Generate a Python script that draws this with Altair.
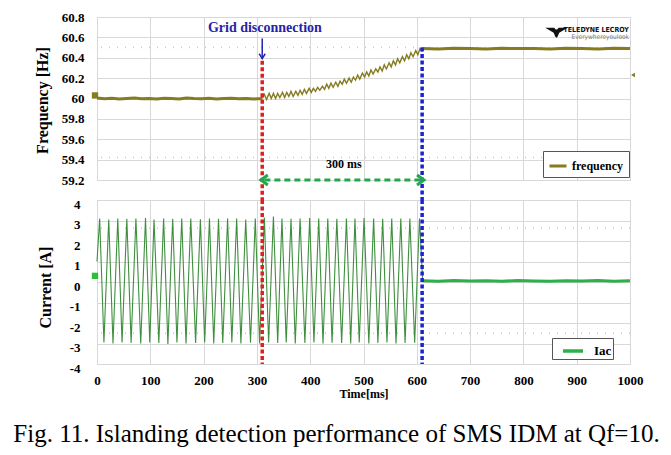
import altair as alt
import pandas as pd

# ---------------- data ----------------
time_ticks = [0, 100, 200, 300, 400, 500, 600, 700, 800, 900, 1000]
freq_ticks = [59.2, 59.4, 59.6, 59.8, 60.0, 60.2, 60.4, 60.6, 60.8]
cur_ticks = [-4, -3, -2, -1, 0, 1, 2, 3, 4]

disconnect_ms = 310
detect_ms = 610

freq_pre_t = [0, 14, 28, 42, 56, 70, 84, 98, 112, 126,
              140, 154, 168, 182, 196, 210, 224, 238, 252, 266,
              280, 294, 310]
freq_pre_v = [60.005, 59.997, 60.003, 59.995, 60.0, 60.005, 59.997, 60.0, 59.995, 60.003,
              60.0, 59.995, 60.005, 60.0, 59.997, 60.003, 59.995, 60.0, 60.003, 59.997,
              60.0, 59.995, 60.0]
freq_ramp_t = [310, 314, 318, 323, 327, 331, 335, 339, 343, 348,
               352, 356, 360, 364, 368, 373, 377, 381, 385, 389,
               393, 398, 402, 406, 410, 414, 418, 423, 427, 431,
               435, 439, 443, 448, 452, 456, 460, 464, 468, 473,
               477, 481, 485, 489, 493, 498, 502, 506, 510, 514,
               518, 523, 527, 531, 535, 539, 543, 548, 552, 556,
               560, 564, 568, 573, 577, 581, 585, 589, 593, 598,
               602, 606, 610]
freq_ramp_v = [60.00, 60.04, 59.99, 60.05, 60.00, 60.05, 60.00, 60.05, 60.01, 60.06,
               60.01, 60.06, 60.02, 60.07, 60.02, 60.07, 60.03, 60.08, 60.04, 60.09,
               60.05, 60.10, 60.06, 60.10, 60.07, 60.11, 60.08, 60.12, 60.09, 60.14,
               60.10, 60.15, 60.11, 60.16, 60.12, 60.17, 60.14, 60.19, 60.15, 60.20,
               60.16, 60.21, 60.18, 60.23, 60.19, 60.25, 60.21, 60.26, 60.22, 60.28,
               60.24, 60.29, 60.26, 60.31, 60.27, 60.33, 60.29, 60.35, 60.31, 60.37,
               60.33, 60.39, 60.35, 60.41, 60.37, 60.43, 60.39, 60.45, 60.41, 60.47,
               60.43, 60.49, 60.46]
freq_post_t = [610, 640, 670, 700, 730, 760, 790, 820, 850, 880, 910, 940, 970, 1000]
freq_post_v = [60.49, 60.487, 60.493, 60.49, 60.487, 60.493, 60.49, 60.49, 60.487, 60.493,
               60.49, 60.487, 60.493, 60.49]

iac_t = [0, 5, 13, 22, 30, 39, 47, 56, 64, 73,
         82, 91, 99, 107, 116, 125, 133, 142, 150, 159,
         167, 176, 185, 194, 202, 211, 219, 228, 236, 245,
         253, 262, 270, 279, 288, 297, 305, 314, 322, 331,
         339, 347, 355, 364, 372, 381, 390, 399, 407, 416,
         424, 433, 441, 450, 459, 468, 476, 484, 492, 501,
         510, 519, 527, 536, 544, 553, 561, 570, 578, 587,
         596, 605, 611]
iac_v = [1.0, 3.1, -2.95, 3.05, -3.0, 3.1, -2.95, 3.08, -2.97, 3.1,
         -3.0, 3.12, -2.95, 3.05, -2.98, 3.1, -3.02, 3.08, -2.95, 3.1,
         -3.0, 3.1, -2.97, 3.06, -2.95, 3.1, -3.0, 3.08, -2.98, 3.1,
         -2.95, 3.1, -3.0, 3.05, -2.96, 3.1, -3.0, 3.15, -2.95, 3.2,
         -2.98, 3.1, -2.95, 3.08, -3.0, 3.1, -2.97, 3.12, -2.95, 3.1,
         -3.0, 3.1, -2.96, 3.08, -2.98, 3.1, -3.0, 3.1, -2.95, 3.12,
         -3.0, 3.1, -2.97, 3.08, -2.95, 3.1, -3.0, 3.1, -2.98, 3.1,
         -2.96, 3.1, 0.08]
iac_post_t = [611, 640, 670, 700, 730, 760, 790, 820, 850, 880, 910, 940, 970, 1000]
iac_post_v = [0.06, 0.04, 0.07, 0.05, 0.06, 0.04, 0.07, 0.05, 0.04, 0.06, 0.05, 0.07, 0.04, 0.06]

caption = "Fig. 11. Islanding detection performance of SMS IDM at Qf=10."

# ---------------- styling ----------------
FONT = "Liberation Serif"
OLIVE = "#857b1f"
GREEN_WAVE = "#3f8f3f"
GREEN_FLAT = "#2bb04a"
RED = "#e0201e"
BLUE = "#1c22d0"
ARROW_GREEN = "#22a84a"
W, H_TOP, H_BOT = 533, 163, 164

xs = alt.Scale(domain=[0, 1000], nice=False, zero=False)
ys_top = alt.Scale(domain=[59.2, 60.8], nice=False, zero=False)
ys_bot = alt.Scale(domain=[-4, 4], nice=False, zero=False)

xaxis_top = alt.Axis(values=time_ticks, labels=False, ticks=False, domain=False, title=None,
                     grid=True)
xaxis_bot = alt.Axis(values=time_ticks, format="d", ticks=False, tickSize=0, domain=False, grid=True,
                     title="Time[ms]", labelFont=FONT, labelFontSize=13, labelFontWeight="bold",
                     labelColor="black", labelPadding=10, labelFlush=False, labelOverlap=False,
                     titleFont=FONT, titleFontSize=12, titleFontWeight="bold", titleColor="black",
                     titlePadding=1)
yaxis_top = alt.Axis(values=freq_ticks, format=".1~f", ticks=False, domain=False, grid=True,
                     labelFont=FONT, labelFontSize=13, labelFontWeight="bold", labelColor="black",
                     labelPadding=13, labelFlush=False, labelOverlap=False,
                     title="Frequency [Hz]", titleFont=FONT, titleFontSize=16, titleFontWeight="bold",
                     titleColor="black", titleX=-55, titleY=83, titleBaseline="middle")
yaxis_bot = alt.Axis(values=cur_ticks, ticks=False, domain=False, grid=True,
                     labelExpr="datum.value < 0 ? '-' + abs(datum.value) : '' + datum.value",
                     labelFont=FONT, labelFontSize=13, labelFontWeight="bold", labelColor="black",
                     labelPadding=17, labelOffset=4, labelFlush=False, labelOverlap=False,
                     title="Current [A]", titleFont=FONT, titleFontSize=16, titleFontWeight="bold",
                     titleColor="black", titleX=-52, titleY=87, titleBaseline="middle")

X_TOP = alt.X("t:Q", scale=xs, axis=xaxis_top)
Y_TOP = alt.Y("v:Q", scale=ys_top, axis=yaxis_top)
X_BOT = alt.X("t:Q", scale=xs, axis=xaxis_bot)
Y_BOT = alt.Y("v:Q", scale=ys_bot, axis=yaxis_bot)

# ---------------- top panel ----------------
freq_flat_df = pd.DataFrame({
    "t": freq_pre_t + freq_post_t,
    "v": freq_pre_v + freq_post_v,
    "seg": ["a"] * len(freq_pre_t) + ["b"] * len(freq_post_t),
    "series": "frequency",
})
freq_ramp_df = pd.DataFrame({"t": freq_ramp_t, "v": freq_ramp_v})

leg_top = alt.Legend(orient="none", legendX=446, legendY=134, title=None, symbolType="stroke",
                     symbolSize=289, symbolStrokeWidth=3, labelFont=FONT, labelFontSize=12,
                     labelFontWeight="bold", labelColor="black", strokeColor="#555",
                     fillColor="white", padding=5, labelOffset=4)

dots_top = alt.Chart(pd.DataFrame({"v": [60.5, 59.42]})).mark_rule(
    color="#c4c4c4", strokeDash=[1, 7], strokeWidth=1.5).encode(y=Y_TOP)

flat_top = alt.Chart(freq_flat_df).mark_line(strokeWidth=3).encode(
    x=X_TOP, y=Y_TOP, detail="seg:N",
    color=alt.Color("series:N", scale=alt.Scale(domain=["frequency"], range=[OLIVE]),
                    legend=leg_top))
ramp_top = alt.Chart(freq_ramp_df).mark_line(strokeWidth=1.4, color=OLIVE).encode(x=X_TOP, y=Y_TOP)

def vline_top(t, top, color):
    df = pd.DataFrame({"t": [t], "v": [top], "v2": [59.0]})
    return alt.Chart(df).mark_rule(color=color, strokeWidth=3.5, strokeDash=[4, 2.5],
                                   clip=False).encode(x=X_TOP, y=Y_TOP, y2="v2:Q")

red_top = vline_top(disconnect_ms, 60.37, RED)
blue_top = vline_top(detect_ms, 60.5, BLUE)

arrow_df = pd.DataFrame({"t": [disconnect_ms + 4], "t2": [detect_ms - 4], "v": [59.2]})
arrow_line = alt.Chart(arrow_df).mark_rule(color=ARROW_GREEN, strokeWidth=3, strokeDash=[6, 4],
                                           clip=False).encode(x=X_TOP, x2="t2:Q", y=Y_TOP)
head_l = alt.Chart(pd.DataFrame({"t": [disconnect_ms + 4], "v": [59.2]})).mark_point(
    shape="M0.7,-1L-0.7,0L0.7,1", size=100, filled=False, color=ARROW_GREEN, strokeWidth=3,
    opacity=1, clip=False).encode(x=X_TOP, y=Y_TOP)
head_r = alt.Chart(pd.DataFrame({"t": [detect_ms - 3], "v": [59.2]})).mark_point(
    shape="M-0.7,-1L0.7,0L-0.7,1", size=100, filled=False, color=ARROW_GREEN, strokeWidth=3,
    opacity=1, clip=False).encode(x=X_TOP, y=Y_TOP)

ms_text = alt.Chart(pd.DataFrame({"t": [463], "v": [59.36], "s": ["300 ms"]})).mark_text(
    font=FONT, fontSize=12, fontWeight="bold", color="black").encode(x=X_TOP, y=Y_TOP, text="s:N")

grid_text = alt.Chart(pd.DataFrame({"t": [315], "v": [60.69], "s": ["Grid disconnection"]})).mark_text(
    font=FONT, fontSize=14, fontWeight="bold", color="#2424a8").encode(x=X_TOP, y=Y_TOP, text="s:N")
grid_arrow = alt.Chart(pd.DataFrame({"t": [disconnect_ms], "v": [60.59], "v2": [60.39]})).mark_rule(
    color="#2424b0", strokeWidth=1.5).encode(x=X_TOP, y=Y_TOP, y2="v2:Q")
grid_head = alt.Chart(pd.DataFrame({"t": [disconnect_ms], "v": [60.41]})).mark_point(
    shape="M-1,-1L0,0.6L1,-1", size=36, filled=False, color="#2424b0", strokeWidth=1.5,
    opacity=1).encode(x=X_TOP, y=Y_TOP)

logo_shape = alt.Chart(pd.DataFrame({"t": [862], "v": [60.65]})).mark_point(
    shape="M-1,-0.4L-0.2,-0.4L-0.06,-0.25L0.06,-0.25L0.2,-0.4L1,-0.4L0.25,0.05L0.1,0.4L0,0.5L-0.1,0.4L-0.25,0.05Z",
    size=500, filled=True, color="#111", opacity=1).encode(x=X_TOP, y=Y_TOP)
LOGO_FONT = "Liberation Sans Narrow, DejaVu Sans Condensed, sans-serif"
logo_text1 = alt.Chart(pd.DataFrame({"t": [998], "v": [60.668], "s": ["TELEDYNE LECROY"]})).mark_text(
    font=LOGO_FONT, fontSize=7, fontWeight="bold", align="right", color="#111").encode(
    x=X_TOP, y=Y_TOP, text="s:N")
logo_text2 = alt.Chart(pd.DataFrame({"t": [998], "v": [60.603], "s": ["Everywhereyoulook"]})).mark_text(
    font=LOGO_FONT, fontSize=6.5, align="right", color="#777").encode(
    x=X_TOP, y=Y_TOP, text="s:N")

marker_top = alt.Chart(pd.DataFrame({"t": [0], "v": [60.03]})).mark_square(
    size=40, color=OLIVE, opacity=1, xOffset=-2, clip=False).encode(x=X_TOP, y=Y_TOP)
marker_right = alt.Chart(pd.DataFrame({"t": [1000], "v": [60.23]})).mark_point(
    shape="triangle-left", size=20, filled=True, color=OLIVE, opacity=1, xOffset=3,
    clip=False).encode(x=X_TOP, y=Y_TOP)

top = alt.layer(dots_top, flat_top, ramp_top, marker_top, marker_right, red_top, blue_top,
                arrow_line, head_l, head_r, ms_text, grid_text, grid_arrow, grid_head,
                logo_shape, logo_text1, logo_text2).properties(width=W, height=H_TOP)

# ---------------- bottom panel ----------------
iac_df = pd.DataFrame({"t": iac_t, "v": iac_v})
iac_post_df = pd.DataFrame({"t": iac_post_t, "v": iac_post_v, "series": "Iac"})

leg_bot = alt.Legend(orient="none", legendX=455, legendY=138, title=None, symbolType="stroke",
                     symbolSize=400, symbolStrokeWidth=3.5, labelFont=FONT, labelFontSize=13,
                     labelFontWeight="bold", labelColor="black", strokeColor="#555",
                     fillColor="white", padding=1, symbolOffset=8, labelOffset=9,
                     labelExpr="datum.label + '      '")

dots_bot = alt.Chart(pd.DataFrame({"v": [2.62, -2.5]})).mark_rule(
    color="#c4c4c4", strokeDash=[1, 7], strokeWidth=1.5).encode(y=Y_BOT)
wave = alt.Chart(iac_df).mark_line(strokeWidth=1.1, color=GREEN_WAVE).encode(x=X_BOT, y=Y_BOT)
flat_bot = alt.Chart(iac_post_df).mark_line(strokeWidth=3).encode(
    x=X_BOT, y=Y_BOT,
    color=alt.Color("series:N", scale=alt.Scale(domain=["Iac"], range=[GREEN_FLAT]),
                    legend=leg_bot))
marker_bot = alt.Chart(pd.DataFrame({"t": [0], "v": [0.3]})).mark_square(
    size=40, color="#2bbf3a", opacity=1, xOffset=-2, clip=False).encode(x=X_BOT, y=Y_BOT)

def vline_bot(t, color):
    df = pd.DataFrame({"t": [t], "v": [4.0], "v2": [-4.0]})
    return alt.Chart(df).mark_rule(color=color, strokeWidth=3.5, strokeDash=[4, 2.5],
                                   clip=False).encode(x=X_BOT, y=Y_BOT, y2="v2:Q")

bot = alt.layer(dots_bot, wave, flat_bot, marker_bot, vline_bot(disconnect_ms, RED),
                vline_bot(detect_ms, BLUE)).properties(width=W, height=H_BOT)

chart = alt.vconcat(top, bot, spacing=20, bounds="flush").resolve_scale(color="independent").properties(
    padding={"left": 5, "top": 2, "right": 0, "bottom": 0},
    title=alt.TitleParams(caption, orient="bottom", anchor="middle", font=FONT, fontSize=25,
                          fontWeight="normal", color="black", offset=22, dx=-2),
).configure_view(stroke="#c8c8c8", strokeWidth=1).configure_axis(
    gridColor="#d8d8d8", gridWidth=1)

chart.save("out.html", embed_options={"renderer": "svg", "actions": False})
